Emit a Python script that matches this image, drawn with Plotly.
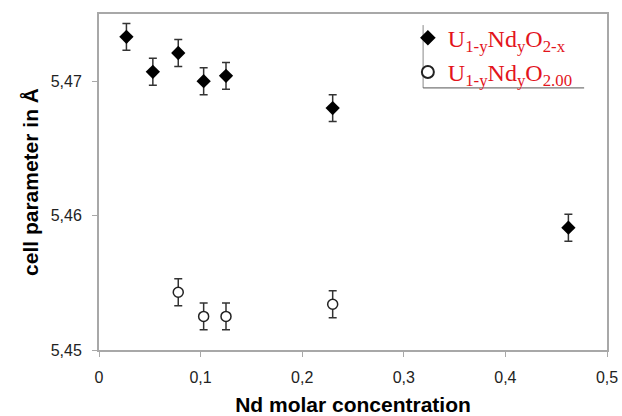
import plotly.graph_objects as go

# Data
x_nonstoich = [0.027, 0.053, 0.078, 0.103, 0.125, 0.230, 0.462]
y_nonstoich = [5.4733, 5.4707, 5.4721, 5.4700, 5.4704, 5.4680, 5.4591]
err_nonstoich = [0.001, 0.001, 0.001, 0.001, 0.001, 0.001, 0.001]

x_stoich = [0.078, 0.103, 0.125, 0.230]
y_stoich = [5.4543, 5.4525, 5.4525, 5.4534]
err_stoich = [0.001, 0.001, 0.001, 0.001]

x_ticks = [0, 0.1, 0.2, 0.3, 0.4, 0.5]
x_ticklabels = ["0", "0,1", "0,2", "0,3", "0,4", "0,5"]
y_ticks = [5.45, 5.46, 5.47]
y_ticklabels = ["5,45", "5,46", "5,47"]

name1 = "U<sub>1-y</sub>Nd<sub>y</sub>O<sub>2-x</sub>"
name2 = "U<sub>1-y</sub>Nd<sub>y</sub>O<sub>2.00</sub>"

fig = go.Figure()
fig.add_trace(go.Scatter(
    x=x_nonstoich, y=y_nonstoich, mode="markers", name=name1,
    marker=dict(symbol="diamond", size=11, color="black"),
    error_y=dict(type="data", array=err_nonstoich, color="#333333", thickness=1.5, width=4),
))
fig.add_trace(go.Scatter(
    x=x_stoich, y=y_stoich, mode="markers", name=name2,
    marker=dict(symbol="circle", size=10, color="white", line=dict(color="#222222", width=1.5)),
    error_y=dict(type="data", array=err_stoich, color="#333333", thickness=1.5, width=4),
))

axis_common = dict(
    showline=True, linecolor="#a8a8a8", linewidth=2, mirror=True,
    ticks="outside", ticklen=5, tickcolor="#a8a8a8", tickwidth=1,
    showgrid=False, zeroline=False, automargin=False,
    tickfont=dict(family="Liberation Sans, Arial", size=16, color="#222222"),
)
title_font = dict(family="Liberation Sans, Arial", size=21, color="black", weight="bold")

fig.update_layout(
    width=622, height=416,
    margin=dict(l=99, r=15, t=14, b=66),
    paper_bgcolor="white", plot_bgcolor="white",
    showlegend=True,
    legend=dict(
        x=0.608, y=0.995, xanchor="left", yanchor="top",
        bgcolor="rgba(255,255,255,0)",
        font=dict(family="Liberation Serif, Times New Roman", size=24, color="#e3141c"),
        itemsizing="constant", tracegroupgap=0,
    ),
    xaxis=dict(range=[0, 0.5], tickvals=x_ticks, ticktext=x_ticklabels,
               ticklabelstandoff=7,
               title=dict(text="Nd molar concentration", standoff=16, font=title_font),
               **axis_common),
    yaxis=dict(range=[5.45, 5.475], tickvals=y_ticks, ticktext=y_ticklabels,
               ticklabelstandoff=7,
               title=dict(text="cell parameter in Å", standoff=6, font=title_font),
               **axis_common),
)

# legend frame (left and bottom lines, as in the reference)
fig.add_shape(type="line", xref="paper", yref="paper", x0=0.638, x1=0.638, y0=0.78, y1=0.967,
              line=dict(color="#888888", width=1))
fig.add_shape(type="line", xref="paper", yref="paper", x0=0.638, x1=0.955, y0=0.78, y1=0.78,
              line=dict(color="#555555", width=1))

fig.write_html("out.html", config={"displayModeBar": False},
               post_script="document.body.style.margin='0px';")
